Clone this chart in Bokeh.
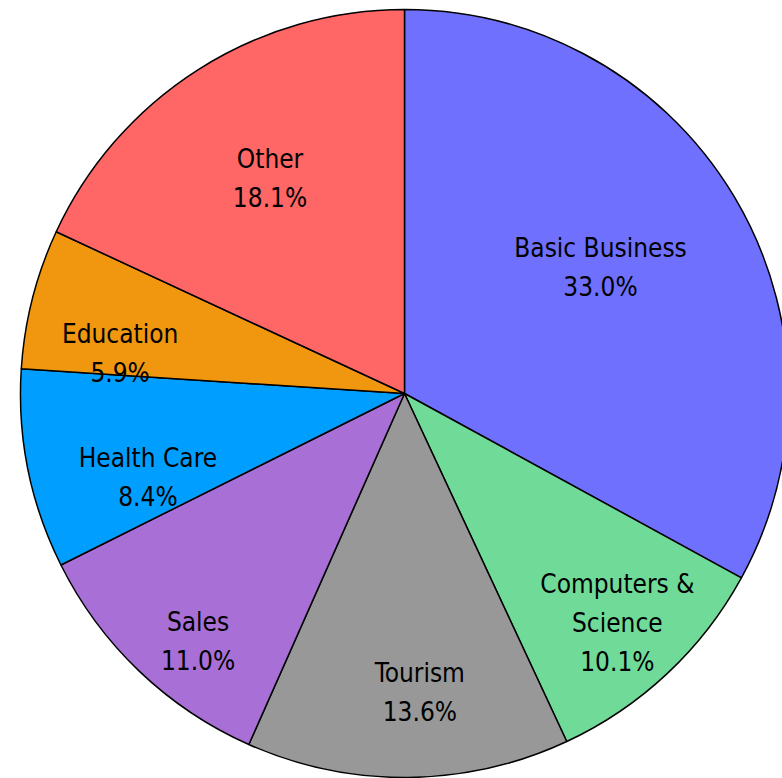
import math
from bokeh.plotting import figure
from bokeh.models import ColumnDataSource, Range1d
from bokeh.core.properties import value
from bokeh.embed import file_html
from bokeh.resources import INLINE

categories = ["Basic Business", "Computers &\nScience", "Tourism", "Sales",
              "Health Care", "Education", "Other"]
shares = [33.0, 10.1, 13.6, 11.0, 8.4, 5.9, 18.1]
colors = ["#7070FF", "#70DA98", "#989898", "#A86FD6", "#009EFF", "#F0960F", "#FF6666"]
# label placement (layout only): distance as fraction of radius, angle shift in degrees
label_radius = [0.607, 0.815, 0.78, 0.84, 0.703, 0.748, 0.66]
label_shift = [2.1, -0.3, 2.4, 3.9, 6.7, 6.2, -0.5]

R = 384
W, H = 782, 778
CX, CY = 404, 393
total = sum(shares)

starts, ends, lx, ly, texts = [], [], [], [], []
cum = 0.0
for name, v, f, s in zip(categories, shares, label_radius, label_shift):
    a0 = math.pi / 2 - 2 * math.pi * cum / total
    cum += v
    a1 = math.pi / 2 - 2 * math.pi * cum / total
    starts.append(a1)
    ends.append(a0)
    mid = (a0 + a1) / 2 + math.radians(s)
    lx.append(R * f * math.cos(mid))
    ly.append(R * f * math.sin(mid))
    texts.append(f"{name}\n{v:.1f}%")

src = ColumnDataSource(dict(start=starts, end=ends, color=colors))
lab = ColumnDataSource(dict(x=lx, y=ly, text=texts))

p = figure(width=W, height=H, output_backend="svg", toolbar_location=None,
           x_range=Range1d(-CX, W - CX), y_range=Range1d(-(H - CY), CY),
           min_border=0)
p.axis.visible = False
p.grid.visible = False
p.outline_line_color = None
p.background_fill_color = "white"
p.border_fill_color = "white"

p.wedge(x=0, y=0, radius=R, start_angle="start", end_angle="end",
        fill_color="color", line_color="black", line_width=1.5, source=src)
p.text(x="x", y="y", text="text", source=lab, text_align="center",
       text_baseline="middle", text_font=value("DejaVu Sans Condensed"),
       text_font_size="26px", text_color="black", text_line_height=1.3)

open("out.html", "w").write(file_html(p, INLINE))
